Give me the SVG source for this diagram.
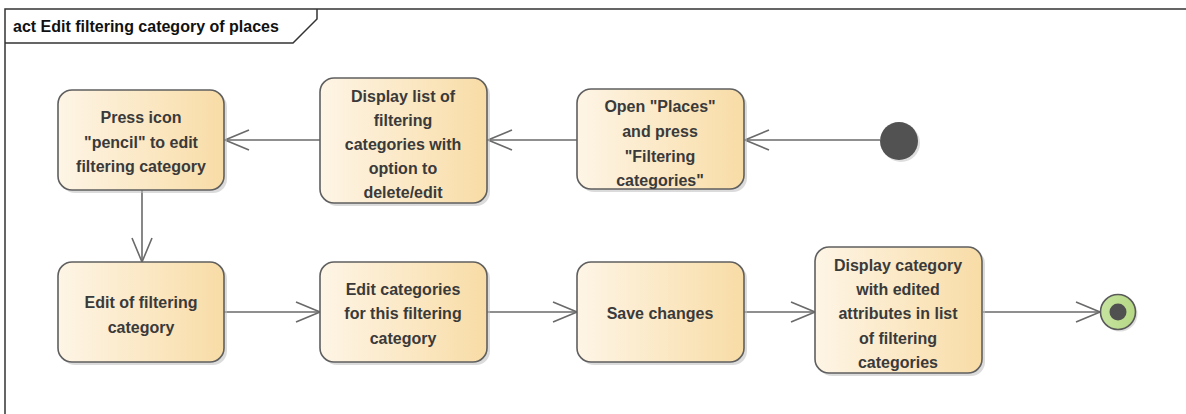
<svg xmlns="http://www.w3.org/2000/svg" width="1186" height="414" viewBox="0 0 1186 414">
<style>
.node rect.box{fill:url(#g);stroke:#5f5f5f;stroke-width:1.6}
.node rect.sh{fill:#bdbdbd;opacity:.55}
.node text{font-family:"Liberation Sans",Arial,sans-serif;font-weight:bold;font-size:16px;fill:#3a3a3a;text-anchor:middle}
.edge{stroke:#6a6a6a;stroke-width:1.6;fill:none}
.title{font-family:"Liberation Sans",Arial,sans-serif;font-weight:bold;font-size:16px;fill:#111}
</style>
<defs>
<linearGradient id="g" x1="0" y1="0" x2="1" y2="0">
<stop offset="0" stop-color="#fef5e6"/>
<stop offset="1" stop-color="#f8dca6"/>
</linearGradient>
<linearGradient id="gg" x1="0" y1="0" x2="1" y2="0">
<stop offset="0" stop-color="#c7e4a0"/>
<stop offset="1" stop-color="#b5d884"/>
</linearGradient>
<marker id="arr" viewBox="0 0 26 22" refX="25" refY="11" markerWidth="26" markerHeight="22" markerUnits="userSpaceOnUse" orient="auto">
<path d="M1 1 L25 11 L1 21" fill="none" stroke="#6a6a6a" stroke-width="1.6"/>
</marker>
</defs>
<rect width="1186" height="414" fill="#fff"/>
<g id="frame">
<path d="M5 420 V9 H1190" fill="none" stroke="#333" stroke-width="1.5"/>
<path d="M5 43 H293 L317 19 V9" fill="none" stroke="#333" stroke-width="1.5"/>
<text class="title" x="13" y="32">act Edit filtering category of places</text>
</g>
<g id="connectors">
<line class="edge" x1="880" y1="140" x2="745" y2="140" marker-end="url(#arr)"/>
<line class="edge" x1="577" y1="140" x2="488" y2="140" marker-end="url(#arr)"/>
<line class="edge" x1="320" y1="140" x2="225" y2="140" marker-end="url(#arr)"/>
<line class="edge" x1="142" y1="190" x2="142" y2="262" marker-end="url(#arr)"/>
<line class="edge" x1="224" y1="312" x2="320" y2="312" marker-end="url(#arr)"/>
<line class="edge" x1="487" y1="312" x2="577" y2="312" marker-end="url(#arr)"/>
<line class="edge" x1="744" y1="312" x2="815" y2="312" marker-end="url(#arr)"/>
<line class="edge" x1="983" y1="312" x2="1100" y2="312" marker-end="url(#arr)"/>
</g>
<g id="start">
<circle cx="901" cy="143" r="19" fill="#c8c8c8" opacity=".6"/>
<circle cx="899" cy="141" r="19" fill="#525252"/>
</g>
<g id="n1" class="node">
<rect class="sh" x="61" y="93" width="166" height="100" rx="14"/>
<rect class="box" x="58" y="90" width="166" height="100" rx="14"/>
<text x="141" y="123">Press icon</text>
<text x="141" y="148">"pencil" to edit</text>
<text x="141" y="172">filtering category</text>
</g>
<g id="n2" class="node">
<rect class="sh" x="323" y="81" width="167" height="125" rx="14"/>
<rect class="box" x="320" y="78" width="167" height="125" rx="14"/>
<text x="403" y="102">Display list of</text>
<text x="403" y="126">filtering</text>
<text x="403" y="150">categories with</text>
<text x="403" y="174">option to</text>
<text x="403" y="198">delete/edit</text>
</g>
<g id="n3" class="node">
<rect class="sh" x="580" y="92" width="167" height="100" rx="14"/>
<rect class="box" x="577" y="89" width="167" height="100" rx="14"/>
<text x="660" y="112">Open "Places"</text>
<text x="660" y="137">and press</text>
<text x="660" y="162">"Filtering</text>
<text x="660" y="186">categories"</text>
</g>
<g id="n4" class="node">
<rect class="sh" x="61" y="265" width="166" height="100" rx="14"/>
<rect class="box" x="58" y="262" width="166" height="100" rx="14"/>
<text x="141" y="308">Edit of filtering</text>
<text x="141" y="333">category</text>
</g>
<g id="n5" class="node">
<rect class="sh" x="323" y="265" width="167" height="100" rx="14"/>
<rect class="box" x="320" y="262" width="167" height="100" rx="14"/>
<text x="403" y="295">Edit categories</text>
<text x="403" y="319">for this filtering</text>
<text x="403" y="344">category</text>
</g>
<g id="n6" class="node">
<rect class="sh" x="580" y="265" width="167" height="100" rx="14"/>
<rect class="box" x="577" y="262" width="167" height="100" rx="14"/>
<text x="660" y="319">Save changes</text>
</g>
<g id="n7" class="node">
<rect class="sh" x="818" y="250" width="167" height="126" rx="14"/>
<rect class="box" x="815" y="247" width="167" height="126" rx="14"/>
<text x="898" y="271">Display category</text>
<text x="898" y="295">with edited</text>
<text x="898" y="319">attributes in list</text>
<text x="898" y="344">of filtering</text>
<text x="898" y="368">categories</text>
</g>
<g id="end">
<circle cx="1120" cy="314" r="17.5" fill="#c8c8c8" opacity=".6"/>
<circle cx="1118" cy="312" r="17.5" fill="url(#gg)" stroke="#5a5a5a" stroke-width="1.6"/>
<circle cx="1118" cy="312" r="8.5" fill="#505050"/>
</g>
</svg>
